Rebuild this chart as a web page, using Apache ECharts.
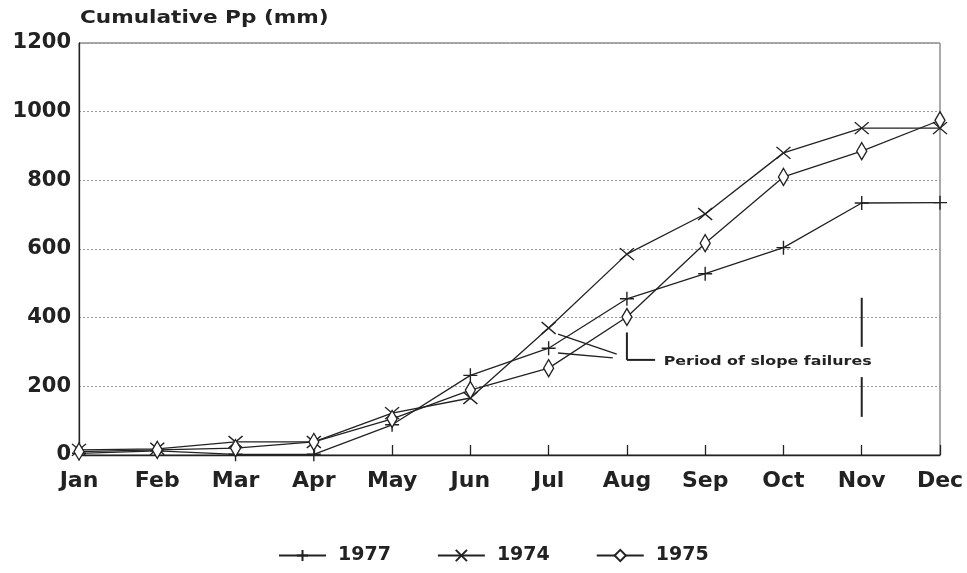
<!DOCTYPE html>
<html><head><meta charset="utf-8">
<script src="https://cdn.jsdelivr.net/npm/echarts@6/dist/echarts.min.js"></script>
<style>html,body{margin:0;padding:0;background:#fff}#c{width:967px;height:573px}</style>
</head><body><div id="c"></div>
<script>
var months = ['Jan','Feb','Mar','Apr','May','Jun','Jul','Aug','Sep','Oct','Nov','Dec'];
var p1977 = [5, 12, 2, 2, 88, 232, 311, 455, 528, 604, 734, 735];
var p1974 = [15, 18, 38, 38, 122, 166, 370, 585, 702, 880, 952, 952];
var p1975 = [10, 15, 20, 38, 105, 189, 253, 402, 617, 810, 885, 975];
var yTicks = [0, 200, 400, 600, 800, 1000, 1200];
var titleText = 'Cumulative Pp (mm)';
var noteText = 'Period of slope failures';

var FONT = '"DejaVu Sans", sans-serif';
var INK = '#222';
function pts(arr){ return arr.map(function(v,i){ return [i, v]; }); }
var plusSym = 'path://M5,0L5,10M0,5L10,5';
var xSym = 'path://M0,0L10,8M10,0L0,8';

function mkSeries(name, data, sym, size){
  return {
    name: name, type: 'line', data: pts(data),
    symbol: sym, symbolSize: size, showSymbol: true,
    lineStyle: {color: INK, width: 1.3},
    itemStyle: {color: INK, borderColor: INK, borderWidth: 1.4},
    emphasis: {disabled: true}, animation: false
  };
}

var chart = echarts.init(document.getElementById('c'));
chart.setOption({
  animation: false,
  grid: {left: 79, right: 27, top: 43, bottom: 118, show: true, borderColor: '#555', borderWidth: 1},
  xAxis: {type: 'value', min: 0, max: 11, interval: 1,
    axisLine: {lineStyle: {color: INK, width: 1.3}},
    axisTick: {inside: true, length: 10, lineStyle: {color: INK, width: 1.3}},
    splitLine: {show: false},
    axisLabel: {margin: 15, fontFamily: FONT, fontWeight: 'bold', fontSize: 22, color: INK,
      formatter: function(v){ return months[Math.round(v)] || ''; }}},
  yAxis: {type: 'value', min: 0, max: 1200, interval: 200,
    axisLine: {show: true, lineStyle: {color: INK, width: 1.3}},
    axisTick: {show: false},
    splitLine: {lineStyle: {color: '#999', type: [2, 2], width: 1}},
    axisLabel: {margin: 8, fontFamily: FONT, fontWeight: 'bold', fontSize: 21, color: INK,
      formatter: function(v){ return yTicks.indexOf(v) >= 0 ? String(v) : ''; }}},
  legend: {left: 273, top: 541, itemWidth: 47, itemHeight: 14, itemGap: 46,
    textStyle: {fontFamily: FONT, fontWeight: 'bold', fontSize: 19, color: INK, padding: [0,0,0,7]},
    data: ['1977','1974','1975']},
  series: [
    mkSeries('1977', p1977, plusSym, 14),
    mkSeries('1974', p1974, xSym, [14, 12]),
    Object.assign(mkSeries('1975', p1975, 'diamond', [10, 17]), {
      itemStyle: {color: '#fff', borderColor: INK, borderWidth: 1.4}})
  ]
});

// annotation (data-space anchors)
function P(x, y){ return chart.convertToPixel({gridIndex: 0}, [x, y]); }
function seg(a, b, w){ return {type: 'line', shape: {x1: a[0], y1: a[1], x2: b[0], y2: b[1]},
  style: {stroke: INK, lineWidth: w || 1.4}, silent: true}; }
var g = [
  seg(P(6.87, 294), P(6.12, 352)),
  seg(P(6.82, 283), P(6.12, 297)),
  seg(P(7.0, 357), P(7.0, 277), 2),
  seg(P(7.0, 277), P(7.36, 277), 2),
  seg(P(10, 458), P(10, 315), 2),
  seg(P(10, 227), P(10, 111), 2)
];
var tp = P(7.47, 272);
g.push({type: 'text', x: tp[0], y: tp[1], scaleX: 1.22, silent: true,
  style: {text: noteText, fill: INK, font: 'bold 13px ' + FONT,
    verticalAlign: 'middle', align: 'left'}});
g.push({type: 'text', x: 80, y: 18, scaleX: 1.2, silent: true,
  style: {text: titleText, fill: INK, font: 'bold 18px ' + FONT,
    verticalAlign: 'middle', align: 'left'}});
chart.setOption({graphic: g});
</script></body></html>
